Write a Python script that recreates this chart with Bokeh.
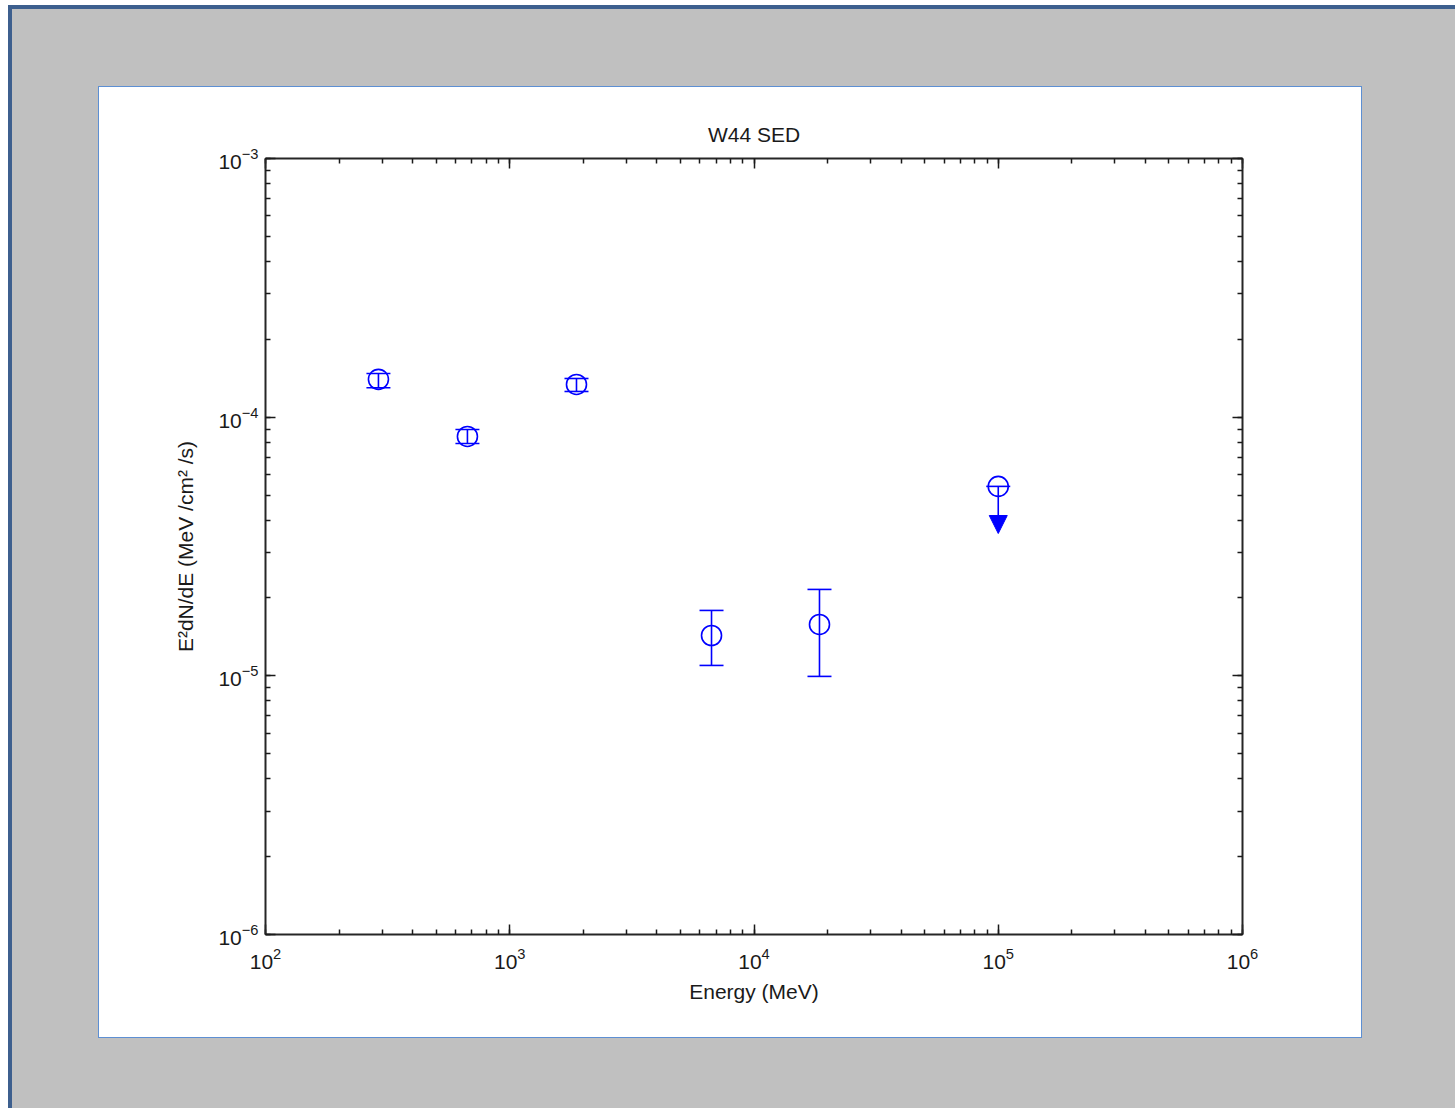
from bokeh.plotting import figure
from bokeh.models import (ColumnDataSource, Whisker, TeeHead, Arrow, NormalHead,
                          LogAxis, LogTicker)
from bokeh.embed import file_html
from bokeh.resources import INLINE

# ---- data ----
energy = [290, 671, 1876, 6700, 18540]
flux = [1.40e-4, 8.42e-5, 1.338e-4, 1.432e-5, 1.58e-5]
flux_hi = [1.476e-4, 8.96e-5, 1.411e-4, 1.79e-5, 2.158e-5]
flux_lo = [1.30e-4, 7.91e-5, 1.257e-4, 1.097e-5, 9.95e-6]

ul_energy = [1.0e5]
ul_flux = [5.40e-5]
ul_arrow_end = [3.55e-5]

title_text = "W44 SED"
x_label = "Energy (MeV)"
y_label = "E\u00b2dN/dE (MeV /cm\u00b2 /s)"

BLUE = "#0000ff"
FONT = "Liberation Sans"
TXT = "#1a1a1a"

p = figure(width=1455, height=1108, x_axis_type="log", y_axis_type="log",
           x_range=(1e2, 1e6), y_range=(1e-6, 1e-3),
           output_backend="svg", toolbar_location=None,
           min_border_left=265, min_border_right=213,
           min_border_top=158, min_border_bottom=174,
           border_fill_color=None, background_fill_color="white",
           outline_line_color=None)

# window chrome: gray surround, white panel with light-blue edge, dark edge
p.styles = {
    "background": (
        "linear-gradient(#ffffff,#ffffff) 99px 87px / 1262px 950px no-repeat,"
        "linear-gradient(#5d8fd3,#5d8fd3) 98px 86px / 1264px 952px no-repeat,"
        "linear-gradient(#3d5f8e,#3d5f8e) 8px 5px / 4px 1103px no-repeat,"
        "linear-gradient(#3d5f8e,#3d5f8e) 8px 5px / 1447px 4px no-repeat,"
        "linear-gradient(#c0c0c0,#c0c0c0) 8px 5px / 1447px 1103px no-repeat,"
        "#ffffff"
    )
}

p.grid.visible = False

p.title.text = title_text
p.title.align = "center"
p.title.text_font = FONT
p.title.text_font_size = "21px"
p.title.text_font_style = "normal"
p.title.text_color = TXT
p.title.standoff = 25

def style_axis(ax, labels=True):
    ax.ticker.num_minor_ticks = 10
    ax.axis_line_color = "#262626"
    ax.axis_line_width = 2
    ax.major_tick_line_color = "#1a1a1a"
    ax.minor_tick_line_color = "#1a1a1a"
    ax.major_tick_line_width = 1.5
    ax.minor_tick_line_width = 1.5
    ax.major_tick_in = 10
    ax.major_tick_out = 0
    ax.minor_tick_in = 5
    ax.minor_tick_out = 0
    ax.major_label_text_font = FONT
    ax.major_label_text_font_size = "21px"
    ax.major_label_text_color = TXT
    ax.axis_label_text_font = FONT
    ax.axis_label_text_font_size = "21px"
    ax.axis_label_text_font_style = "normal"
    ax.axis_label_text_color = TXT
    if not labels:
        ax.major_label_text_alpha = 0.0

xa = p.xaxis[0]
ya = p.yaxis[0]
style_axis(xa)
style_axis(ya)
xa.axis_label = x_label
ya.axis_label = y_label
xa.major_label_standoff = 13
xa.axis_label_standoff = 8
ya.major_label_standoff = 7
ya.axis_label_standoff = 18

top_ax = LogAxis(ticker=LogTicker())
right_ax = LogAxis(ticker=LogTicker())
style_axis(top_ax, labels=False)
style_axis(right_ax, labels=False)
p.add_layout(top_ax, "above")
p.add_layout(right_ax, "right")

src = ColumnDataSource(dict(x=energy, y=flux, hi=flux_hi, lo=flux_lo))
w = Whisker(base="x", upper="hi", lower="lo", source=src, dimension="height",
            line_color=BLUE, line_width=1.6,
            upper_head=TeeHead(size=24, line_color=BLUE, line_width=1.6),
            lower_head=TeeHead(size=24, line_color=BLUE, line_width=1.6))
p.add_layout(w)
p.scatter("x", "y", source=src, marker="circle", size=20,
          fill_color=None, line_color=BLUE, line_width=1.6)

ul_src = ColumnDataSource(dict(x=ul_energy, y=ul_flux, y_end=ul_arrow_end))
p.add_layout(Arrow(x_start="x", y_start="y", x_end="x", y_end="y_end",
                   source=ul_src, line_color=BLUE, line_width=1.6,
                   end=NormalHead(size=18, fill_color=BLUE, line_color=BLUE,
                                  line_width=1.0)))
p.scatter("x", "y", source=ul_src, marker="circle", size=20,
          fill_color=None, line_color=BLUE, line_width=1.6)
p.scatter("x", "y", source=ul_src, marker="dash", size=24,
          line_color=BLUE, line_width=1.6)

open("out.html", "w").write(file_html(p, INLINE))
